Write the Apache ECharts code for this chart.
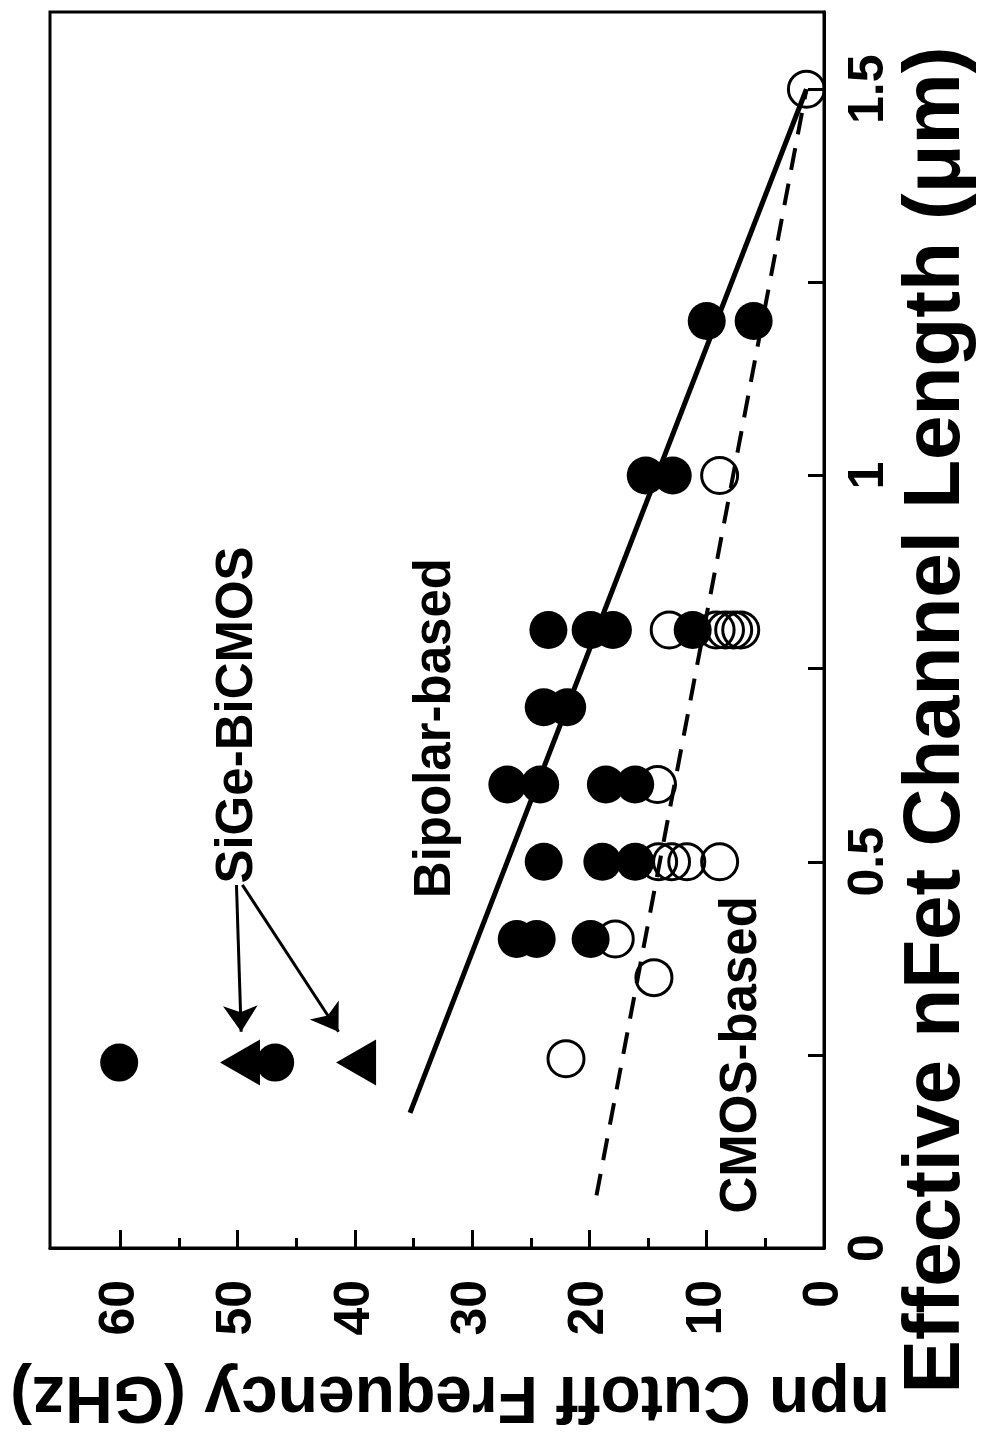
<!DOCTYPE html>
<html>
<head>
<meta charset="utf-8">
<script src="https://cdn.jsdelivr.net/npm/echarts@6/dist/echarts.min.js"></script>
<style>
html,body{margin:0;padding:0;background:#fff;}
#chart{width:982px;height:1437px;}
</style>
</head>
<body>
<div id="chart"></div>
<script>
// ---- axis ticks ----
const freqTicks = [0, 10, 20, 30, 40, 50, 60];
const freqMinorTicks = [5, 15, 25, 35, 45, 55];
const lengthTicks = [0, 0.25, 0.5, 0.75, 1, 1.25, 1.5];
const lengthLabels = [0, 0.5, 1, 1.5];

// ---- data: [npn cutoff frequency (GHz), effective nFet channel length (um)] ----
const bipolarBased = [
  [60.1, 0.24], [46.8, 0.24],
  [26.2, 0.40], [24.5, 0.40], [19.9, 0.40],
  [23.9, 0.50], [18.9, 0.50], [16.1, 0.50],
  [27.0, 0.60], [24.2, 0.60], [18.6, 0.60], [16.1, 0.60],
  [23.9, 0.70], [21.9, 0.70],
  [23.5, 0.80], [19.9, 0.80], [18.0, 0.80], [11.2, 0.80],
  [15.2, 1.00], [12.9, 1.00],
  [10.0, 1.20], [6.0, 1.20]
];
const cmosBased = [
  [22.0, 0.245], [17.8, 0.40], [14.5, 0.35],
  [14.1, 0.50], [13.0, 0.50], [11.7, 0.50], [8.9, 0.50],
  [14.2, 0.60],
  [13.2, 0.80], [9.2, 0.80], [8.4, 0.80], [7.7, 0.80], [7.1, 0.80],
  [8.9, 1.00],
  [1.5, 1.50]
];
const sigeBiCMOS = [[49.8, 0.24], [39.9, 0.24]];
const bipolarTrend = [[35.3, 0.175], [1.5, 1.5]];
const cmosTrend = [[19.4, 0.068], [1.5, 1.5]];

// ---- annotations (data coordinates) ----
const noteTexts = ['SiGe-BiCMOS', 'Bipolar-based', 'CMOS-based'];
const notePoints = [[50.0, 0.69], [33.1, 0.673], [7.0, 0.25]];
const arrowStarts = [[50.1, 0.47], [49.6, 0.47]];
const arrowEnds = [[49.7, 0.28], [41.4, 0.28]];

const FONT = '"Liberation Sans", Arial, Helvetica, sans-serif';

const chart = echarts.init(document.getElementById('chart'), null, {renderer: 'canvas'});

const option = {
  animation: false,
  backgroundColor: '#ffffff',
  grid: {
    left: 50, right: 158, top: 12, bottom: 189,
    show: true, borderColor: '#000', borderWidth: 3, backgroundColor: 'transparent'
  },
  xAxis: [
    {
      type: 'value', position: 'bottom', inverse: true, min: 0, max: 66,
      axisLine: {show: true, lineStyle: {color: '#000', width: 3}},
      axisTick: {show: true, inside: true, length: 18, customValues: freqTicks, lineStyle: {color: '#000', width: 3}},
      axisLabel: {
        show: true, customValues: freqTicks, rotate: 90, margin: 32,
        fontSize: 50, fontWeight: 'bold', fontFamily: FONT, color: '#000'
      },
      splitLine: {show: false}
    },
    {
      type: 'value', position: 'bottom', inverse: true, min: 0, max: 66,
      axisLine: {show: false},
      axisTick: {show: true, inside: true, length: 10, customValues: freqMinorTicks, lineStyle: {color: '#000', width: 3}},
      axisLabel: {show: false},
      splitLine: {show: false}
    }
  ],
  yAxis: [
    {
      type: 'value', position: 'right', min: 0, max: 1.6,
      axisLine: {show: true, lineStyle: {color: '#000', width: 3}},
      axisTick: {show: true, inside: true, length: 16, customValues: lengthTicks, lineStyle: {color: '#000', width: 3}},
      axisLabel: {
        show: true, customValues: lengthLabels, rotate: 90, margin: 20,
        fontSize: 50, fontWeight: 'bold', fontFamily: FONT, color: '#000'
      },
      splitLine: {show: false}
    }
  ],
  series: [
    {
      name: 'Bipolar-based trend', type: 'line', data: bipolarTrend,
      showSymbol: false, symbol: 'none', z: 2,
      lineStyle: {color: '#000', width: 5, type: 'solid', opacity: 1}
    },
    {
      name: 'CMOS-based trend', type: 'line', data: cmosTrend,
      showSymbol: false, symbol: 'none', z: 2,
      lineStyle: {color: '#000', width: 4, type: [22, 14], opacity: 1}
    },
    {
      name: 'CMOS-based', type: 'scatter', data: cmosBased, z: 3,
      symbol: 'circle', symbolSize: 36,
      itemStyle: {color: 'rgba(255,255,255,0)', borderColor: '#000', borderWidth: 3, opacity: 1}
    },
    {
      name: 'Bipolar-based', type: 'scatter', data: bipolarBased, z: 4,
      symbol: 'circle', symbolSize: 38,
      itemStyle: {color: '#000', opacity: 1}
    },
    {
      name: 'SiGe-BiCMOS', type: 'scatter', data: sigeBiCMOS, z: 4,
      symbol: 'triangle', symbolRotate: 90, symbolSize: [46, 40],
      itemStyle: {color: '#000', opacity: 1}
    },
    {
      name: 'arrows', type: 'lines', coordinateSystem: 'cartesian2d', z: 5,
      symbol: ['none', 'arrow'], symbolSize: 26,
      lineStyle: {color: '#000', width: 3, opacity: 1, curveness: 0},
      data: arrowStarts.map((s, i) => ({coords: [s, arrowEnds[i]]}))
    },
    {
      name: 'notes', type: 'scatter', z: 6, symbolSize: 1,
      itemStyle: {color: 'rgba(0,0,0,0)', opacity: 1},
      label: {
        show: true, position: 'inside', rotate: 90, opacity: 1,
        formatter: p => p.name,
        fontSize: 51, fontWeight: 'bold', fontFamily: FONT, color: '#000'
      },
      data: notePoints.map((p, i) => ({name: noteTexts[i], value: p}))
    }
  ],
  graphic: [
    {
      type: 'text', x: 450, y: 1395, rotation: Math.PI,
      style: {
        text: 'npn Cutoff Frequency (GHz)', fill: '#000',
        fontSize: 66, fontWeight: 'bold', fontFamily: FONT,
        align: 'center', verticalAlign: 'middle'
      }
    },
    {
      type: 'text', x: 937, y: 720, rotation: Math.PI / 2,
      style: {
        text: 'Effective nFet Channel Length (\u03bcm)', fill: '#000',
        fontSize: 80, fontWeight: 'bold', fontFamily: FONT,
        align: 'center', verticalAlign: 'middle'
      }
    }
  ]
};

chart.setOption(option);
</script>
</body>
</html>
